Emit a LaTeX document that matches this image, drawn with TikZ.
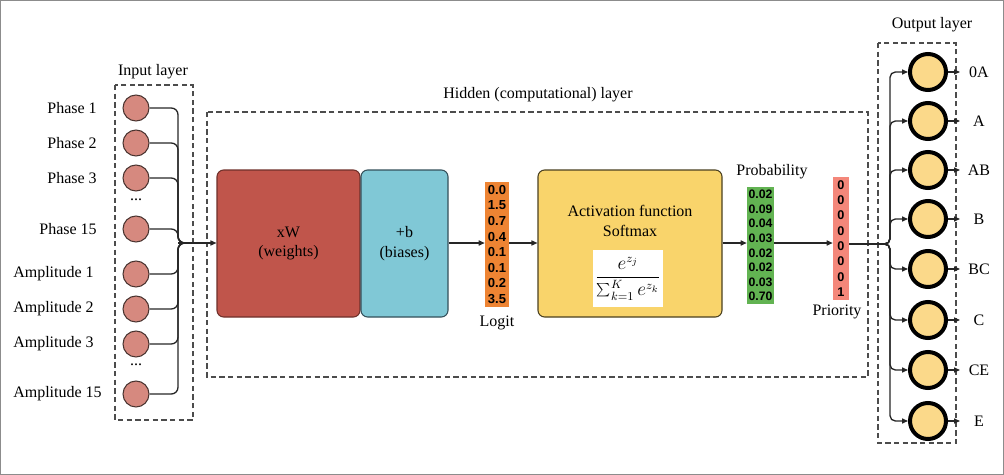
\documentclass[tikz,border=0pt]{standalone}
\usepackage{fontspec}
\setmainfont{Liberation Serif}
\newfontfamily\numfont{Liberation Sans}
\usetikzlibrary{arrows.meta,calc}
\definecolor{incol}{HTML}{D6897F}
\definecolor{indraw}{HTML}{4A3430}
\definecolor{outcol}{HTML}{FBD98A}
\definecolor{wcol}{HTML}{C0554B}
\definecolor{wdraw}{HTML}{6E302A}
\definecolor{bcol}{HTML}{80C8D6}
\definecolor{bdraw}{HTML}{34505A}
\definecolor{lcol}{HTML}{EE8433}
\definecolor{scol}{HTML}{F9D46B}
\definecolor{sdraw}{HTML}{4A4020}
\definecolor{pcol}{HTML}{62B352}
\definecolor{rcol}{HTML}{F4877A}
\begin{document}
\begin{tikzpicture}[x=0.75pt,y=-0.75pt,
  conn/.style={line width=1pt, draw=black!85},
  arr/.style={conn, -{Triangle[length=4.5pt,width=3.8pt]}},
  dashbox/.style={draw=black!70, line width=0.9pt, dash pattern=on 4pt off 2.5pt},
  lbl/.style={font=\fontsize{12}{14.5}\selectfont, inner sep=0pt},
  incirc/.style={circle, draw=indraw, fill=incol, line width=0.8pt, minimum size=19.5pt, inner sep=0pt},
  outcirc/.style={circle, draw=black, fill=outcol, line width=3pt, minimum size=27pt, inner sep=0pt},
  bigbox/.style={rectangle, rounded corners=5pt, line width=0.8pt, minimum height=110.25pt, align=center, font=\fontsize{12}{14.5}\selectfont},
  vecbox/.style={rectangle, inner sep=0pt, align=center},
]
\useasboundingbox (0,0) rectangle (1004,475);
\draw[black!45, line width=0.8pt] (0.5,0.5) rectangle (1003.5,474.5);

% dashed layer boxes
\draw[dashbox] (115,85) rectangle (193,420);
\draw[dashbox] (207,112) rectangle (868,377);
\draw[dashbox] (878,43) rectangle (956,443);
\node[lbl] (tin) at (153,72) {Input layer};
\node[lbl] (thid) at (538,95) {Hidden (computational) layer};
\node[lbl] (tout) at (932,25) {Output layer};

% input nodes
\foreach \n/\y in {1/108,2/143,3/178,4/229,5/274,6/309,7/344,8/394}{
  \node[incirc] (i\n) at (136,\y) {};
}
\node[lbl] (d1) at (136,200) {...};
\node[lbl] (d2) at (136,365) {...};
\node[lbl, anchor=east] (li1) at (97,108) {Phase 1};
\node[lbl, anchor=east] (li2) at (97,143) {Phase 2};
\node[lbl, anchor=east] (li3) at (97,178) {Phase 3};
\node[lbl, anchor=east] (li4) at (97,229) {Phase 15};
\node[lbl, anchor=west] (li5) at (13,274) {Amplitude 1};
\node[lbl, anchor=west] (li6) at (13,309) {Amplitude 2};
\node[lbl, anchor=west] (li7) at (13,344) {Amplitude 3};
\node[lbl, anchor=west] (li8) at (13,394) {Amplitude 15};

% hidden layer
\node[bigbox, fill=wcol, draw=wdraw, minimum width=107.25pt] (wbox) at (288.5,243.5) {xW\\(weights)};
\node[bigbox, fill=bcol, draw=bdraw, minimum width=65.25pt] (bbox) at (404.5,243.5) {+b\\(biases)};
\node[vecbox, fill=lcol, minimum width=18pt, minimum height=93.75pt,
  font=\numfont\bfseries\fontsize{9.8}{11.7}\selectfont] (logit) at (497,244.5)
  {0.0\\1.5\\0.7\\0.4\\0.1\\0.1\\0.2\\3.5};
\node[lbl] (tlogit) at (497,323) {Logit};
\node[bigbox, fill=scol, draw=sdraw, minimum width=138pt] (smax) at (630,243.5) {};
\node[lbl, align=center] (tact) at (630,221) {Activation function\\Softmax};
\node[fill=white, minimum width=52.5pt, minimum height=42.75pt, inner sep=0pt] (form) at (628,278.5)
  {\fontsize{13.5}{15}\selectfont$\displaystyle\frac{e^{z_j}}{\sum_{k=1}^{K} e^{z_k}}$};
\node[vecbox, fill=pcol, minimum width=20.25pt, minimum height=87.75pt,
  font=\numfont\bfseries\fontsize{9.2}{10.95}\selectfont] (prob) at (760.5,245.5)
  {0.02\\0.09\\0.04\\0.03\\0.02\\0.02\\0.03\\0.70};
\node[lbl] (tprob) at (772,172) {Probability};
\node[vecbox, fill=rcol, minimum width=12pt, minimum height=92.25pt,
  font=\numfont\bfseries\fontsize{9.5}{11.5}\selectfont] (prio) at (841,238.5)
  {0\\0\\0\\0\\0\\0\\0\\1};
\node[lbl] (tprio) at (837,312) {Priority};

% output nodes
\foreach \n/\y/\t in {1/72/0A,2/121/A,3/170/AB,4/219/B,5/269/BC,6/320/C,7/370/CE,8/421/E}{
  \node[outcirc] (o\n) at (928,\y) {};
  \coordinate (e\n) at (960,\y);
  \node[lbl] (lo\n) at (979,\y) {\t};
  \draw[arr] (o\n.east) -- (e\n);
}

% input bus
\coordinate (bx) at (178,243);
\coordinate (inbus) at (186,243);
\foreach \n in {1,...,8}{
  \draw[conn, rounded corners=5pt] (i\n.east) -| (bx) -- (inbus);
}
\draw[arr] (bx) -- (wbox.west |- bx);

% hidden flow
\coordinate (mid) at (0,243);
\draw[arr] (bbox.east |- mid) -- (logit.west |- mid);
\draw[arr] (logit.east |- mid) -- (smax.west |- mid);
\draw[arr] (smax.east |- mid) -- (prob.west |- mid);
\draw[arr] (prob.east |- mid) -- (prio.west |- mid);

% output bus
\coordinate (ob) at (890,244);
\foreach \n in {1,...,8}{
  \draw[arr, rounded corners=4pt] (prio.east |- ob) -- (ob) |- (o\n.west);
}
\end{tikzpicture}
\end{document}
